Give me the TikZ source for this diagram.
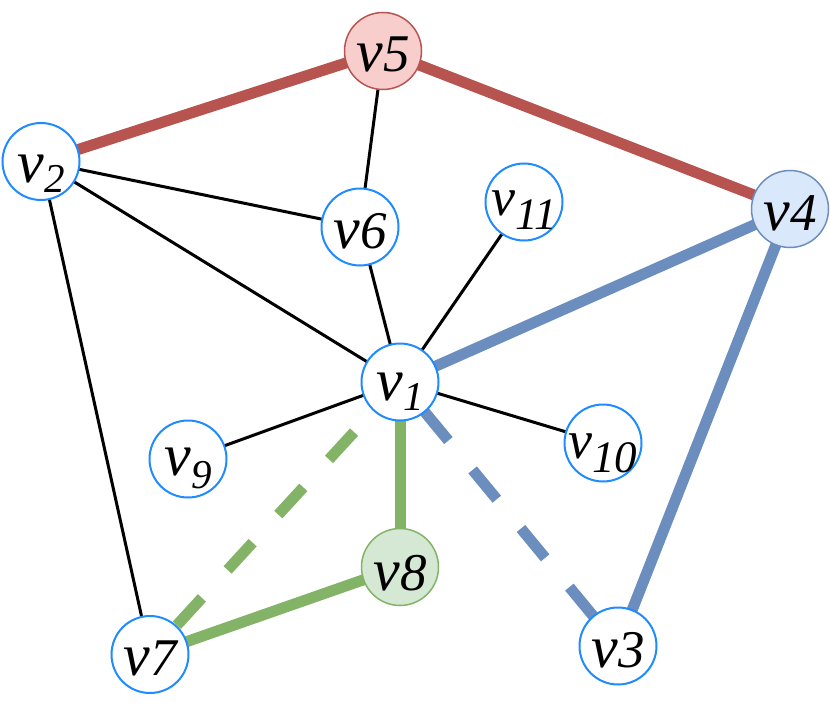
\documentclass[tikz,border=0pt]{standalone}
\usepackage{fontspec}
\newfontfamily\labfont{LiberationSerif-Italic.ttf}
\usetikzlibrary{backgrounds}
\definecolor{nodeblue}{HTML}{1F8BFF}
\definecolor{redE}{HTML}{B85450}
\definecolor{redF}{HTML}{F8CECC}
\definecolor{blueE}{HTML}{6C8EBF}
\definecolor{blueF}{HTML}{DAE8FC}
\definecolor{greenE}{HTML}{82B366}
\definecolor{greenF}{HTML}{D5E8D4}
\newcommand{\vfull}[1]{{\fontsize{60}{60}\selectfont v}{\fontsize{53}{53}\selectfont #1}}
\newcommand{\vsub}[4]{{\fontsize{#1}{#1}\selectfont v}\raisebox{#4}{\fontsize{#2}{#2}\selectfont #3}}
\begin{document}
\begin{tikzpicture}[x=1pt,y=-1pt,
  vert/.style={circle, draw=nodeblue, line width=2pt, fill=white, minimum size=77pt,
    inner sep=0pt, text height=42pt, text depth=0pt, font=\labfont},
  redvert/.style={vert, draw=redE, line width=1.5pt, fill=redF},
  bluevert/.style={vert, draw=blueE, line width=1.5pt, fill=blueF},
  greenvert/.style={vert, draw=greenE, line width=1.5pt, fill=greenF},
  thin edge/.style={black, line width=3pt},
  red edge/.style={redE, line width=11pt},
  blue edge/.style={blueE, line width=11pt},
  green edge/.style={greenE, line width=11pt},
  blue dash/.style={blue edge, dash pattern=on 38pt off 38pt, dash phase=38pt},
  green dash/.style={green edge, dash pattern=on 37pt off 38pt, dash phase=7pt}
]
\useasboundingbox (0,0) rectangle (830,709);
\node[redvert] (v5) at (383,51) {\vfull{5}};
\node[vert, text height=42pt] (v2) at (41,161.5) {\vsub{60}{41}{2}{-10pt}};
\node[vert] (v6) at (360,227) {\vfull{6}};
\node[vert, text height=26pt] (v11) at (524,202) {\vsub{54}{45}{11}{-14pt}};
\node[bluevert] (v4) at (790,209) {\vfull{4}};
\node[vert, text height=36pt] (v1) at (400,382) {\vsub{60}{41}{1}{-10pt}};
\node[vert, text height=32pt] (v9) at (188,459) {\vsub{60}{41}{9}{-13pt}};
\node[vert, text height=30pt] (v10) at (603,443) {\vsub{54}{45}{10}{-14pt}};
\node[greenvert, text height=46pt] (v8) at (400,567) {\vfull{8}};
\node[vert, text height=41pt] (v7) at (150,654.5) {\vfull{7}};
\node[vert] (v3) at (618,646) {\vfull{3}};
\begin{scope}[on background layer]
  \draw[red edge] (v2.center) -- (v5.center);
  \draw[red edge] (v5.center) -- (v4.center);
  \draw[blue edge] (v1.center) -- (v4.center);
  \draw[blue edge] (v4.center) -- (v3.center);
  \draw[blue dash] (v1.center) -- (v3.center);
  \draw[green edge] (v1.center) -- (v8.center);
  \draw[green edge] (v8.center) -- (v7.center);
  \draw[green dash] (v1.center) -- (v7.center);
  \draw[thin edge] (v5.center) -- (v6.center);
  \draw[thin edge] (v2.center) -- (v6.center);
  \draw[thin edge] (v2.center) -- (v1.center);
  \draw[thin edge] (v2.center) -- (v7.center);
  \draw[thin edge] (v6.center) -- (v1.center);
  \draw[thin edge] (v11.center) -- (v1.center);
  \draw[thin edge] (v1.center) -- (v9.center);
  \draw[thin edge] (v1.center) -- (v10.center);
\end{scope}
\end{tikzpicture}
\end{document}
